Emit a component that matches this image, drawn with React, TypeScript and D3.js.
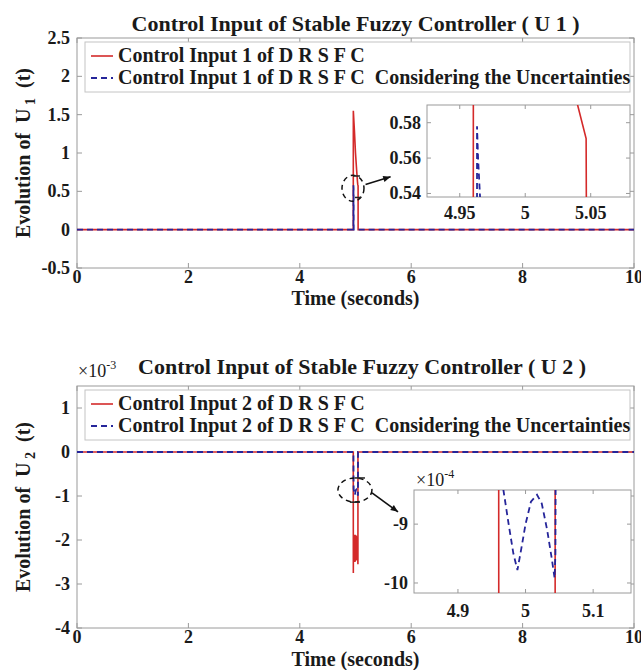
import React from 'react';
import * as d3 from 'd3';

// ---------- data ----------
const timeTicks = [0, 2, 4, 6, 8, 10];
const u1Ticks = [-0.5, 0, 0.5, 1, 1.5, 2, 2.5];
const u1TickLabels = ['-0.5', '0', '0.5', '1', '1.5', '2', '2.5'];
const u2Ticks = [-4, -3, -2, -1, 0, 1]; // ×10^-3
const inset1XTicks = [4.95, 5, 5.05];
const inset1XLabels = ['4.95', '5', '5.05'];
const inset1YTicks = [0.54, 0.56, 0.58];
const inset2XTicks = [4.9, 5, 5.1];
const inset2YTicks = [-1.0, -0.9]; // ×10^-3
const inset2YLabels = ['-10', '-9']; // ×10^-4

// U1 – control input 1 of DRSFC (red)
const u1RedT = [0, 4.96, 4.961, 4.98, 5.0, 5.02, 5.035, 5.04, 5.0465, 5.0467, 5.047, 10];
const u1RedV = [0, 0, 1.55, 1.3, 1.0, 0.78, 0.63, 0.59, 0.571, 0.53, 0, 0];
// U1 – considering uncertainties (blue dashed)
const u1BlueT = [0, 4.9631, 4.9632, 4.964, 4.9655, 4.967, 4.968, 10];
const u1BlueV = [0, 0, 0.578, 0.56, 0.538, 0.4, 0, 0];

// U2 (×10^-3) – red
const u2RedT = [0, 4.96, 4.961, 4.963, 4.9655, 4.968, 4.9705, 4.973, 4.9755, 4.978, 4.9805, 4.983, 4.9855, 4.988, 4.9905, 4.993, 4.9955, 4.998,
  5.0005, 5.003, 5.0055, 5.008, 5.0105, 5.013, 5.0155, 5.018, 5.0205, 5.023, 5.0255, 5.028, 5.0305, 5.033, 5.0355, 5.038, 5.0405, 5.0435, 5.044, 10];
const u2RedV = [0, 0, -2.75, -1.9, -2.5, -1.88, -2.5, -1.9, -2.48, -1.88, -2.5, -1.9, -2.48, -1.9, -2.5, -1.88, -2.46, -1.9,
  -2.48, -1.9, -2.45, -1.92, -2.46, -1.9, -2.44, -1.92, -2.45, -1.93, -2.42, -1.95, -2.44, -1.95, -2.4, -2.0, -2.35, -2.55, 0, 0];
// U2 (×10^-3) – blue dashed
const u2BlueT = [0, 4.963, 4.965, 4.967, 4.975, 4.982, 4.988, 4.994, 5.0, 5.008, 5.017, 5.024, 5.032, 5.039, 5.043, 5.0442, 5.0445, 5.045, 10];
const u2BlueV = [0, 0, -0.6, -0.84, -0.9, -0.95, -0.978, -0.94, -0.9, -0.862, -0.85, -0.865, -0.91, -0.96, -0.992, -0.95, -0.84, 0, 0];

// annotation marks (data coords)
const zoom1Center = [4.955, 0.54];
const zoom1Arrow = [[5.18, 0.59], [5.63, 0.69]];
const zoom1Marks = [[4.955, 5.08, 0.7], [4.99, 5.1, 0.42]];
const zoom2Center = [4.99, -0.864];
const zoom2Arrow = [[5.296, -0.93], [5.763, -1.36]];
const zoom2Marks = [[4.99, 5.17, -0.59], [4.9, 5.08, -1.14]];

// ---------- styles ----------
const RED = '#d42a2a';
const BLUE = '#25259a';
const AX = '#9a9a9a';
const TXT = '#1a1a1a';
const FONT = '"Liberation Serif", "Times New Roman", serif';

const zip = (t: number[], v: number[]) => t.map((d, i) => [d, v[i]] as [number, number]);

function Ticks({ x, y, xt, yt, len = 5 }: any) {
  const [x0, x1] = x.range();
  const [y0, y1] = y.range();
  return (
    <g stroke={AX} strokeWidth={1}>
      {xt.map((t: number) => (
        <g key={'x' + t}>
          <line x1={x(t)} x2={x(t)} y1={y0} y2={y0 - len} />
          <line x1={x(t)} x2={x(t)} y1={y1} y2={y1 + len} />
        </g>
      ))}
      {yt.map((t: number) => (
        <g key={'y' + t}>
          <line x1={x0} x2={x0 + len} y1={y(t)} y2={y(t)} />
          <line x1={x1} x2={x1 - len} y1={y(t)} y2={y(t)} />
        </g>
      ))}
    </g>
  );
}

export default function App() {
  const xMain = d3.scaleLinear().domain([0, 10]).range([77, 634]);
  const yTop = d3.scaleLinear().domain([-0.5, 2.5]).range([268, 38]);
  const yBot = d3.scaleLinear().domain([-4, 1.5]).range([628, 386]);
  const xIn1 = d3.scaleLinear().domain([4.925, 5.08]).range([427, 630]);
  const yIn1 = d3.scaleLinear().domain([0.538, 0.59]).range([197, 105]);
  const xIn2 = d3.scaleLinear().domain([4.835, 5.156]).range([414, 631]);
  const yIn2 = d3.scaleLinear().domain([-1.017, -0.842]).range([593, 490]);

  const mk = (x: any, y: any) => d3.line<[number, number]>().x(d => x(d[0])).y(d => y(d[1]));

  const u1Red = zip(u1RedT, u1RedV);
  const u1Blue = zip(u1BlueT, u1BlueV);
  const u2Red = zip(u2RedT, u2RedV);
  const u2Blue = zip(u2BlueT, u2BlueV);

  const box = (x: any, y: any) => {
    const [x0, x1] = x.range();
    const [y0, y1] = y.range();
    return { x: x0, y: y1, width: x1 - x0, height: y0 - y1 };
  };

  const series = (x: any, y: any, red: any, blue: any, clip?: string) => (
    <g clipPath={clip ? `url(#${clip})` : undefined}>
      <path d={mk(x, y)(red) || ''} fill="none" stroke={RED} strokeWidth={1.6} />
      <path d={mk(x, y)(blue) || ''} fill="none" stroke={BLUE} strokeWidth={1.8} strokeDasharray="6,4" />
    </g>
  );

  const legend = (x0: number, y0: number, n: number) => (
    <g>
      <rect x={x0} y={y0} width={545} height={50} fill="#fff" stroke="#c4c4c4" strokeWidth={1} />
      <line x1={x0 + 6} x2={x0 + 28} y1={y0 + 14} y2={y0 + 14} stroke={RED} strokeWidth={1.6} />
      <line x1={x0 + 6} x2={x0 + 28} y1={y0 + 36} y2={y0 + 36} stroke={BLUE} strokeWidth={1.8} strokeDasharray="6,4" />
      <text x={x0 + 33} y={y0 + 20} fontSize={20} fontWeight="bold" fill={TXT}>{`Control Input ${n} of D R S F C`}</text>
      <text x={x0 + 33} y={y0 + 42} fontSize={20} fontWeight="bold" fill={TXT} style={{ whiteSpace: 'pre' }}>{`Control Input ${n} of D R S F C  Considering the Uncertainties`}</text>
    </g>
  );

  const b1 = box(xMain, yTop);
  const b2 = box(xMain, yBot);
  const bi1 = box(xIn1, yIn1);
  const bi2 = box(xIn2, yIn2);

  const arrowHead = (a: number[], b: number[], x: any, y: any) => {
    const x1 = x(a[0]), y1 = y(a[1]), x2 = x(b[0]), y2 = y(b[1]);
    const ang = Math.atan2(y2 - y1, x2 - x1);
    const L = 8, s = 0.4;
    const p1 = [x2 - L * Math.cos(ang - s), y2 - L * Math.sin(ang - s)];
    const p2 = [x2 - L * Math.cos(ang + s), y2 - L * Math.sin(ang + s)];
    return (
      <g>
        <line x1={x1} y1={y1} x2={x2} y2={y2} stroke="#111" strokeWidth={1.6} />
        <polygon points={`${x2},${y2} ${p1[0]},${p1[1]} ${p2[0]},${p2[1]}`} fill="#111" />
      </g>
    );
  };

  return (
    <svg width={641} height={670} style={{ position: 'absolute', left: 0, top: 0, background: '#fff' }} fontFamily={FONT}>
      <defs>
        <clipPath id="c1"><rect {...b1} /></clipPath>
        <clipPath id="c2"><rect {...b2} /></clipPath>
        <clipPath id="ci1"><rect {...bi1} /></clipPath>
        <clipPath id="ci2"><rect {...bi2} /></clipPath>
      </defs>
      <rect x={0} y={0} width={641} height={670} fill="#fff" />

      {/* ================= TOP ================= */}
      <text x={(b1.x + b1.x + b1.width) / 2} y={31} textAnchor="middle" fontSize={22} fontWeight="bold" fill={TXT}>Control Input of Stable Fuzzy Controller ( U 1 )</text>
      <rect {...b1} fill="#fff" stroke={AX} strokeWidth={1} />
      <Ticks x={xMain} y={yTop} xt={timeTicks} yt={u1Ticks} />
      {series(xMain, yTop, u1Red, u1Blue, 'c1')}
      {u1Ticks.map((t, i) => (
        <text key={t} x={70} y={yTop(t) + 6} textAnchor="end" fontSize={18} fontWeight="bold" fill={TXT}>{u1TickLabels[i]}</text>
      ))}
      {timeTicks.map(t => (
        <text key={t} x={xMain(t)} y={283} textAnchor="middle" fontSize={18} fontWeight="bold" fill={TXT}>{t}</text>
      ))}
      <text x={(b1.x * 2 + b1.width) / 2} y={305} textAnchor="middle" fontSize={20} fontWeight="bold" fill={TXT}>Time (seconds)</text>
      <text transform={`translate(30,${(yTop(2.5) + yTop(-0.5)) / 2}) rotate(-90)`} textAnchor="middle" fontSize={20} fontWeight="bold" fill={TXT} style={{ whiteSpace: 'pre' }}>
        {'Evolution of  U'}<tspan dy={5} fontSize={14}>{' 1'}</tspan><tspan dy={-5}>{'  (t)'}</tspan>
      </text>
      {legend(85, 42, 1)}

      {/* zoom annotation */}
      <ellipse cx={xMain(zoom1Center[0])} cy={yTop(zoom1Center[1])} rx={11} ry={13} fill="none" stroke="#111" strokeWidth={1.5} strokeDasharray="5,4" />
      {zoom1Marks.map((m, i) => (
        <line key={i} x1={xMain(m[0])} x2={xMain(m[1])} y1={yTop(m[2])} y2={yTop(m[2])} stroke="#222" strokeWidth={1.5} />
      ))}
      {arrowHead(zoom1Arrow[0], zoom1Arrow[1], xMain, yTop)}

      {/* inset 1 */}
      <rect {...bi1} fill="#fff" stroke={AX} strokeWidth={1} />
      <Ticks x={xIn1} y={yIn1} xt={inset1XTicks} yt={inset1YTicks} len={4} />
      {series(xIn1, yIn1, u1Red, u1Blue, 'ci1')}
      {inset1YTicks.map(t => (
        <text key={t} x={bi1.x - 6} y={yIn1(t) + 6} textAnchor="end" fontSize={18} fontWeight="bold" fill={TXT}>{t.toFixed(2)}</text>
      ))}
      {inset1XTicks.map((t, i) => (
        <text key={t} x={xIn1(t)} y={bi1.y + bi1.height + 22} textAnchor="middle" fontSize={18} fontWeight="bold" fill={TXT}>{inset1XLabels[i]}</text>
      ))}

      {/* ================= BOTTOM ================= */}
      <text x={362} y={374} textAnchor="middle" fontSize={22} fontWeight="bold" fill={TXT}>Control Input of Stable Fuzzy Controller ( U 2 )</text>
      <text x={78} y={377} fontSize={18} fill={TXT}>×10<tspan dy={-8} fontSize={12}>-3</tspan></text>
      <rect {...b2} fill="#fff" stroke={AX} strokeWidth={1} />
      <Ticks x={xMain} y={yBot} xt={timeTicks} yt={u2Ticks} />
      {series(xMain, yBot, u2Red, u2Blue, 'c2')}
      {u2Ticks.map(t => (
        <text key={t} x={70} y={yBot(t) + 6} textAnchor="end" fontSize={18} fontWeight="bold" fill={TXT}>{t}</text>
      ))}
      {timeTicks.map(t => (
        <text key={t} x={xMain(t)} y={643} textAnchor="middle" fontSize={18} fontWeight="bold" fill={TXT}>{t}</text>
      ))}
      <text x={(b2.x * 2 + b2.width) / 2} y={666} textAnchor="middle" fontSize={20} fontWeight="bold" fill={TXT}>Time (seconds)</text>
      <text transform={`translate(30,${(yBot(1.5) + yBot(-4)) / 2}) rotate(-90)`} textAnchor="middle" fontSize={20} fontWeight="bold" fill={TXT} style={{ whiteSpace: 'pre' }}>
        {'Evolution of  U'}<tspan dy={5} fontSize={14}>{' 2'}</tspan><tspan dy={-5}>{'  (t)'}</tspan>
      </text>
      {legend(85, 390, 2)}

      <ellipse cx={xMain(zoom2Center[0])} cy={yBot(zoom2Center[1])} rx={17} ry={12} fill="none" stroke="#111" strokeWidth={1.5} strokeDasharray="5,4" />
      {zoom2Marks.map((m, i) => (
        <line key={i} x1={xMain(m[0])} x2={xMain(m[1])} y1={yBot(m[2])} y2={yBot(m[2])} stroke="#222" strokeWidth={1.5} />
      ))}
      {arrowHead(zoom2Arrow[0], zoom2Arrow[1], xMain, yBot)}

      {/* inset 2 */}
      <text x={bi2.x + 2} y={bi2.y - 4} fontSize={18} fill={TXT}>×10<tspan dy={-8} fontSize={12}>-4</tspan></text>
      <rect {...bi2} fill="#fff" stroke={AX} strokeWidth={1} />
      <Ticks x={xIn2} y={yIn2} xt={inset2XTicks} yt={inset2YTicks} len={4} />
      {series(xIn2, yIn2, u2Red, u2Blue, 'ci2')}
      {inset2YTicks.map((t, i) => (
        <text key={t} x={bi2.x - 6} y={yIn2(t) + 6} textAnchor="end" fontSize={18} fontWeight="bold" fill={TXT}>{inset2YLabels[i]}</text>
      ))}
      {inset2XTicks.map(t => (
        <text key={t} x={xIn2(t)} y={bi2.y + bi2.height + 24} textAnchor="middle" fontSize={18} fontWeight="bold" fill={TXT}>{t}</text>
      ))}
    </svg>
  );
}
